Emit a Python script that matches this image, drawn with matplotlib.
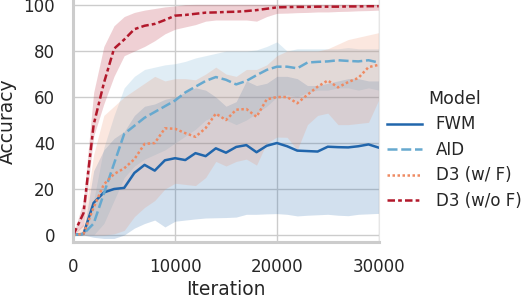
import matplotlib
matplotlib.use("Agg")
import matplotlib.pyplot as plt
import numpy as np

iterations = list(range(0, 31000, 1000))

models = ["FWM", "AID", "D3 (w/ F)", "D3 (w/o F)"]

fwm_mean = [0, 0.5, 14, 18.5, 20, 20.5, 27, 30.5, 28, 32.5, 33.4, 32.6, 35.6, 34.3, 37.7, 35.8,
            38.3, 39.1, 36, 38.8, 40, 38.6, 36.7, 36.5, 36.3, 38.4, 38.2, 38.1, 38.6, 39.4, 38]
fwm_low = [0, 0, -1, -1.5, -1.5, 0, 3, 5, 6.5, 3.5, 6, 6.5, 7, 7.4, 7.5, 7.6,
           7.8, 9, 9, 9.2, 9.3, 9, 8.3, 8.6, 8.8, 9, 8.6, 8.4, 9, 9.2, 9.4]
fwm_high = [0, 1, 28, 37, 42, 45, 52, 56, 57, 59, 60, 62, 64, 63, 60, 56,
            58, 67, 65, 66, 69, 69, 68, 65, 65, 66, 67, 68, 68, 67, 67]

aid_mean = [0, 0.5, 5, 18, 31, 44, 47.5, 51, 53.5, 56, 58.5, 62, 64.5, 67, 68.7, 67.5,
            65.5, 67, 69.5, 71.8, 73.2, 73.2, 72.5, 75, 75.3, 75.5, 76, 75.7, 75.5, 76, 75]
aid_low = [0, 0, 0, 5, 15, 25, 30, 33, 35, 37, 40, 43, 46, 50, 52, 50,
           48, 50, 53, 56, 60, 61, 60, 62, 63, 63, 64, 64, 63, 64, 63]
aid_high = [0, 1, 15, 38, 52, 64, 69, 72, 73, 74, 74.5, 75.5, 77, 78, 79, 80,
            80, 80, 80.5, 82, 84, 80, 81, 81, 81, 81, 81, 81.5, 81, 81, 81]

d3f_mean = [0, 0.5, 12, 22, 26.5, 29, 33, 39.6, 40, 46.4, 46.2, 44.3, 42.7, 46.5, 52.8, 50,
            54.5, 54.8, 51.4, 59, 60, 60, 57.3, 61, 64.5, 67.2, 64.2, 66.5, 68.3, 73, 74]
d3f_low = [0, 0, 0, 0, 0.5, 2, 8, 12, 15, 20, 22.5, 22, 21.5, 25, 32, 30,
           32, 33, 30.4, 40, 42.6, 42.5, 37, 48, 52, 53, 48, 48, 48.5, 49, 58.7]
d3f_high = [0, 5, 35, 52, 56, 60, 63, 66, 69, 67, 68, 68, 67.5, 70, 73, 70,
            69, 72, 72, 74, 78, 80, 80, 80, 80, 81, 83, 85, 86, 87, 88]

d3nf_mean = [0, 9.5, 48, 66, 81, 85, 89.5, 91, 91.8, 93.5, 95.4, 95.7, 96.2, 96.7, 96.8, 97,
             97.1, 97.4, 97.8, 98.4, 99, 99.1, 99.2, 99.2, 99.3, 99.3, 99.3, 99.4, 99.4, 99.5, 99.5]
d3nf_low = [0, 4, 43, 57, 69, 78, 80, 82, 84.5, 87.5, 89.5, 90.5, 91.5, 93, 93.5, 93.5,
            93.5, 93.5, 93, 95, 96.4, 96.5, 96.7, 96.8, 97, 97, 97.2, 97.3, 97.5, 97.6, 97.8]
d3nf_high = [0, 15, 62, 82, 91, 95, 96.8, 97.8, 98.5, 99.2, 99.6, 100.2, 100.3, 100.3, 100.3, 100.3,
             100.3, 100.3, 100.3, 100.3, 100.3, 100.3, 100.3, 100.3, 100.3, 100.3, 100.3, 100.3, 100.3, 100.3, 100.3]

colors = ["#2166ac", "#67a9cf", "#ef8a62", "#b2182b"]
dashes = [None, (4, 1.5), (1, 1), (3, 1.25, 1.5, 1.25)]

means = [fwm_mean, aid_mean, d3f_mean, d3nf_mean]
lows = [fwm_low, aid_low, d3f_low, d3nf_low]
highs = [fwm_high, aid_high, d3f_high, d3nf_high]

plt.rcParams['font.family'] = ['DejaVu Sans']

fig = plt.figure(figsize=(5.22, 2.98), dpi=100)
ax = fig.add_axes([73.3 / 522, 1 - 242 / 298, (378.7 - 73.3) / 522, 242 / 298])

x = np.array(iterations)
for name, m, lo, hi, c, d in zip(models, means, lows, highs, colors, dashes):
    ax.fill_between(x, lo, hi, color=c, alpha=0.2, linewidth=0)
    line, = ax.plot(x, m, color=c, linewidth=1.8, label=name)
    if d is not None:
        line.set_dashes(d)

ax.set_xlim(0, 30000)
ax.set_ylim(-3.04, 102.2)
ax.set_xticks([0, 10000, 20000, 30000])
ax.set_yticks([0, 20, 40, 60, 80, 100])
ax.grid(True, color="#cccccc", linewidth=1)
ax.set_axisbelow(True)
ax.tick_params(axis='both', length=0, labelsize=12, colors="#262626")
ax.tick_params(axis='y', pad=13)
ax.tick_params(axis='x', pad=11.5)
for s in ["left", "bottom"]:
    ax.spines[s].set_color("#cccccc")
    ax.spines[s].set_linewidth(2.2)
ax.spines["right"].set_color("#e6e6e6")
ax.spines["right"].set_linewidth(0.8)
ax.spines["top"].set_visible(False)

ax.set_xlabel("Iteration", fontsize=13.5, color="#262626", labelpad=3)
ax.set_ylabel("Accuracy", fontsize=13.5, color="#262626", labelpad=5)

leg = fig.legend(loc="center left", bbox_to_anchor=(0.713, 0.497), frameon=False,
                 title="Model", fontsize=12, title_fontsize=12.5,
                 handlelength=2.1, handletextpad=0.8, labelspacing=0.45)
for t in leg.get_texts():
    t.set_color("#262626")
leg.get_title().set_color("#262626")

fig.savefig("out.png", dpi=100)
